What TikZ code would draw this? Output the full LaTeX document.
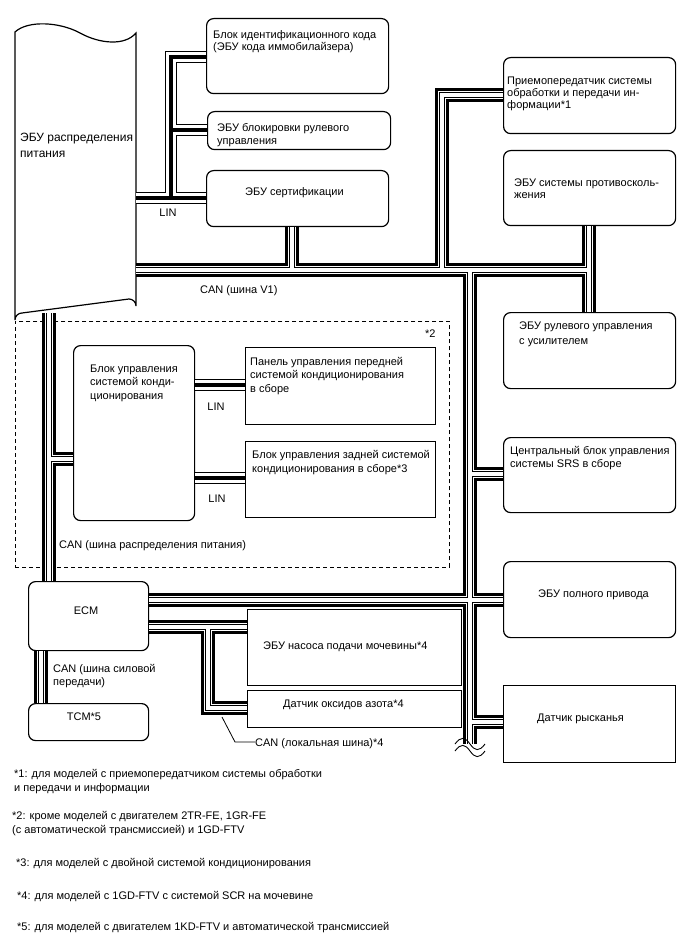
\documentclass[tikz,border=0pt]{standalone}
\usepackage{fontspec}
\setmainfont{Liberation Sans}
\begin{document}
\begin{tikzpicture}[x=1pt,y=-1pt,
  rbox/.style={draw, line width=1.2pt, rounded corners=7pt, inner sep=0pt, anchor=north west},
  sbox/.style={draw, line width=1.2pt, inner sep=0pt, anchor=north west},
  txt/.style={anchor=base west, inner sep=0pt, align=left, font=\fontsize{11}{13}\selectfont},
  ctxt/.style={anchor=base, inner sep=0pt, align=center, font=\fontsize{11}{13}\selectfont},
  ftxt/.style={anchor=base west, inner sep=0pt, align=left, font=\fontsize{11}{14}\selectfont},
  busjoin/.style={line join=miter, line cap=butt}]
\useasboundingbox (0,0) rectangle (688,949);

% power distribution ECU (cut top)
\draw[line width=1.2pt] (15,32) .. controls (28,20) and (60,22) .. (80,33)
   .. controls (100,44) and (125,46) .. (136,33) -- (136,306)
   arc[start angle=0, end angle=-90, radius=7] -- (22,313)
   arc[start angle=-90, end angle=-180, radius=7] -- cycle;
\node[inner sep=0pt, minimum width=121pt, minimum height=281pt, anchor=north west] (pd) at (15,32) {};

% boxes
\node[rbox, minimum width=182pt, minimum height=75pt] (idc) at (206,18) {};
\node[rbox, minimum width=183pt, minimum height=38pt] (slk) at (207,111) {};
\node[rbox, minimum width=182pt, minimum height=56pt] (cert) at (206,170) {};
\node[rbox, minimum width=172pt, minimum height=76pt] (trx) at (503,57) {};
\node[rbox, minimum width=172pt, minimum height=75pt] (abs) at (503,150) {};
\node[rbox, minimum width=172pt, minimum height=76pt] (eps) at (503,312) {};
\node[rbox, minimum width=172pt, minimum height=75pt] (srs) at (503,437) {};
\node[rbox, minimum width=172pt, minimum height=76pt] (awd) at (503,561) {};
\node[sbox, minimum width=172pt, minimum height=77pt] (yaw) at (503,685) {};
\node[rbox, minimum width=121pt, minimum height=175pt] (ac) at (73,345) {};
\node[sbox, minimum width=190pt, minimum height=77pt] (fp) at (245,347) {};
\node[sbox, minimum width=190pt, minimum height=76pt] (rp) at (245,441) {};
\node[rbox, minimum width=120pt, minimum height=69pt] (ecm) at (28,581) {};
\node[rbox, minimum width=120pt, minimum height=37pt] (tcm) at (28,703) {};
\node[sbox, minimum width=214pt, minimum height=76pt] (urea) at (247,609) {};
\node[sbox, minimum width=214pt, minimum height=37pt] (nox) at (247,690) {};
\node[draw, dashed, dash pattern=on 4pt off 3pt, line width=0.9pt, inner sep=0pt,
      minimum width=434pt, minimum height=246pt, anchor=north west] (opt) at (15,321) {};

% bus networks
\def\CANv{(pd.east |- 0,270) -- (589,270)
  (442,270) -- (442,95) -- (trx.west |- 0,95)
  (292,270) -- (cert.south -| 292,0)
  (470,270) -- (470,744)
  (abs.south -| 589,0) -- (eps.north -| 589,0)
  (470,474) -- (srs.west |- 0,474)
  (470,722) -- (yaw.west |- 0,722)
  (ecm.east |- 0,600) -- (awd.west |- 0,600)}
\def\CANp{(pd.south -| 49,0) -- (ecm.north -| 49,0)
  (49,459) -- (ac.west |- 0,459)
  (ecm.south -| 41,0) -- (tcm.north -| 41,0)}
\def\CANl{(ecm.east |- 0,627) -- (urea.west |- 0,627)
  (208,627) -- (208,708) -- (nox.west |- 0,708)}
\def\LINa{(pd.east |- 0,198) -- (cert.west |- 0,198)
  (171,198) -- (171,57) -- (idc.west |- 0,57)
  (171,130) -- (slk.west |- 0,130)
  (ac.east |- 0,385) -- (fp.west |- 0,385)
  (ac.east |- 0,478) -- (rp.west |- 0,478)}
\foreach \w/\c in {14/black, 8.4/white, 5.4/black, 3.4/white}{
  \draw[busjoin, line width=\w pt, \c] \CANv \CANp \CANl;
}
\foreach \w/\c in {12/black, 10/white, 4/black}{
  \draw[busjoin, line width=\w pt, \c] \LINa;
}

% break mark at trunk end
\draw[line width=0.9pt] (455,744) .. controls (461,736) and (465,737) .. (470,744)
   .. controls (475,751) and (479,752) .. (485,744);
\draw[line width=0.9pt] (455,751) .. controls (461,743) and (465,744) .. (470,751)
   .. controls (475,758) and (479,759) .. (485,751);

% box texts (anchor = baseline of the last line)
\node[txt, font=\fontsize{12}{16}\selectfont] (tpd) at (20,158) {ЭБУ распределения\\питания};
\node[txt, font=\fontsize{11}{12.5}\selectfont] (tidc) at (213,51) {Блок идентификационного кода\\(ЭБУ кода иммобилайзера)};
\node[txt] (tslk) at (217,145) {ЭБУ блокировки рулевого\\управления};
\node[txt] (tcert) at (245,196) {ЭБУ сертификации};
\node[txt, font=\fontsize{11}{12}\selectfont] (ttrx) at (507,109) {Приемопередатчик системы\\обработки и передачи ин-\\формации*1};
\node[txt, font=\fontsize{11}{12.5}\selectfont] (tabs) at (514,199) {ЭБУ системы противосколь-\\жения};
\node[txt, font=\fontsize{11}{14.5}\selectfont] (teps) at (519,344) {ЭБУ рулевого управления\\с усилителем};
\node[txt] (tsrs) at (510,467) {Центральный блок управления\\системы SRS в сборе};
\node[txt] (tawd) at (538,597) {ЭБУ полного привода};
\node[txt] (tyaw) at (537,721) {Датчик рысканья};
\node[txt, font=\fontsize{11}{13.5}\selectfont] (tac) at (90,399) {Блок управления\\системой конди-\\ционирования};
\node[txt, font=\fontsize{11}{13.5}\selectfont] (tfp) at (250,392) {Панель управления передней\\системой кондиционирования\\в сборе};
\node[txt, font=\fontsize{11}{14}\selectfont] (trp) at (252,472) {Блок управления задней системой\\кондиционирования в сборе*3};
\node[ctxt] (tecm) at (86,614) {ECM};
\node[ctxt] (ttcm) at (84,720) {TCM*5};
\node[txt] (turea) at (263,649) {ЭБУ насоса подачи мочевины*4};
\node[txt] (tnox) at (283,707) {Датчик оксидов азота*4};

% bus labels
\node[ctxt] (llin1) at (168,217) {LIN};
\node[ctxt] (llin2) at (216,410) {LIN};
\node[ctxt] (llin3) at (217,502) {LIN};
\node[txt] (lcanv) at (200,293) {CAN (шина V1)};
\node[txt] (lcanp) at (59,548) {CAN (шина распределения питания)};
\node[txt] (lcanpt) at (53,685) {CAN (шина силовой\\передачи)};
\node[txt] (lcanl) at (255,746) {CAN (локальная шина)*4};
\node[txt] (lopt) at (425,337) {*2};
\coordinate (lead) at (222,717);
\draw[line width=0.8pt] (lead) -- (235,742) -- (lcanl.west |- 0,742);

% footnotes (anchor = baseline of the last line)
\node[ftxt] (f1) at (14,791) {*1: для моделей с приемопередатчиком системы обработки\\и передачи и информации};
\node[ftxt] (f2) at (12,833) {*2: кроме моделей с двигателем 2TR-FE, 1GR-FE\\(с автоматической трансмиссией) и 1GD-FTV};
\node[ftxt] (f3) at (16,866) {*3: для моделей с двойной системой кондиционирования};
\node[ftxt] (f4) at (17,899) {*4: для моделей с 1GD-FTV с системой SCR на мочевине};
\node[ftxt] (f5) at (17,930) {*5: для моделей с двигателем 1KD-FTV и автоматической трансмиссией};
\end{tikzpicture}
\end{document}
